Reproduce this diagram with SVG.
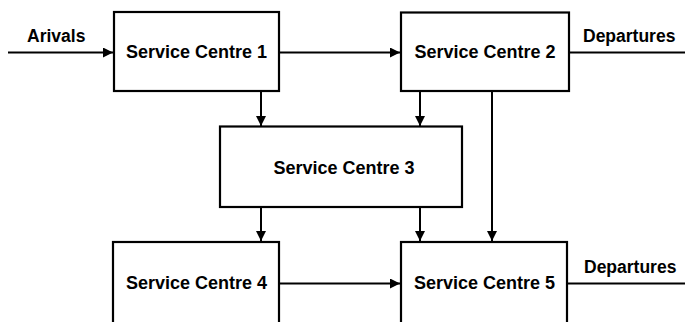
<svg xmlns="http://www.w3.org/2000/svg" width="685" height="322" viewBox="0 0 685 322">
<style>
.box{fill:#fff;stroke:#000;stroke-width:2.2}
.ln{fill:none;stroke:#000;stroke-width:2}
.lbl{font-family:"Liberation Sans",Arial,sans-serif;font-weight:bold;font-size:18px;fill:#000;text-anchor:middle}
.side{font-family:"Liberation Sans",Arial,sans-serif;font-weight:bold;font-size:17.5px;fill:#000}
</style>
<defs>
<marker id="ah" viewBox="0 0 10 10" refX="10" refY="5" markerWidth="5" markerHeight="5" markerUnits="strokeWidth" orient="auto">
<path d="M0,0 L10,5 L0,10 z" fill="#000"/>
</marker>
</defs>
<rect width="685" height="322" fill="#fff"/>
<g id="connectors">
<line class="ln" x1="8" y1="52.5" x2="113" y2="52.5" marker-end="url(#ah)"/>
<line class="ln" x1="279" y1="52.5" x2="400" y2="52.5" marker-end="url(#ah)"/>
<line class="ln" x1="569" y1="52.5" x2="685" y2="52.5"/>
<line class="ln" x1="261" y1="91" x2="261" y2="126" marker-end="url(#ah)"/>
<line class="ln" x1="420" y1="91" x2="420" y2="126" marker-end="url(#ah)"/>
<line class="ln" x1="492" y1="91" x2="492" y2="241" marker-end="url(#ah)"/>
<line class="ln" x1="261" y1="207" x2="261" y2="241" marker-end="url(#ah)"/>
<line class="ln" x1="420" y1="207" x2="420" y2="241" marker-end="url(#ah)"/>
<line class="ln" x1="279" y1="283.5" x2="400" y2="283.5" marker-end="url(#ah)"/>
<line class="ln" x1="567" y1="283.5" x2="685" y2="283.5"/>
</g>
<g id="arrivals-label"><text class="side" x="27" y="41.5">Arivals</text></g>
<g id="departures-1"><text class="side" x="583" y="41.5">Departures</text></g>
<g id="departures-2"><text class="side" x="584" y="273">Departures</text></g>
<g id="sc1">
<rect class="box" x="114" y="12" width="165" height="79"/>
<text class="lbl" x="196.5" y="58">Service Centre 1</text>
</g>
<g id="sc2">
<rect class="box" x="401" y="12.5" width="168" height="78.5"/>
<text class="lbl" x="485" y="58">Service Centre 2</text>
</g>
<g id="sc3">
<rect class="box" x="220" y="126.5" width="242" height="80.5"/>
<text class="lbl" x="344" y="174">Service Centre 3</text>
</g>
<g id="sc4">
<rect class="box" x="113" y="242" width="166" height="90"/>
<text class="lbl" x="196.5" y="288.5">Service Centre 4</text>
</g>
<g id="sc5">
<rect class="box" x="401" y="242" width="166" height="90"/>
<text class="lbl" x="484.5" y="288.5">Service Centre 5</text>
</g>
</svg>
